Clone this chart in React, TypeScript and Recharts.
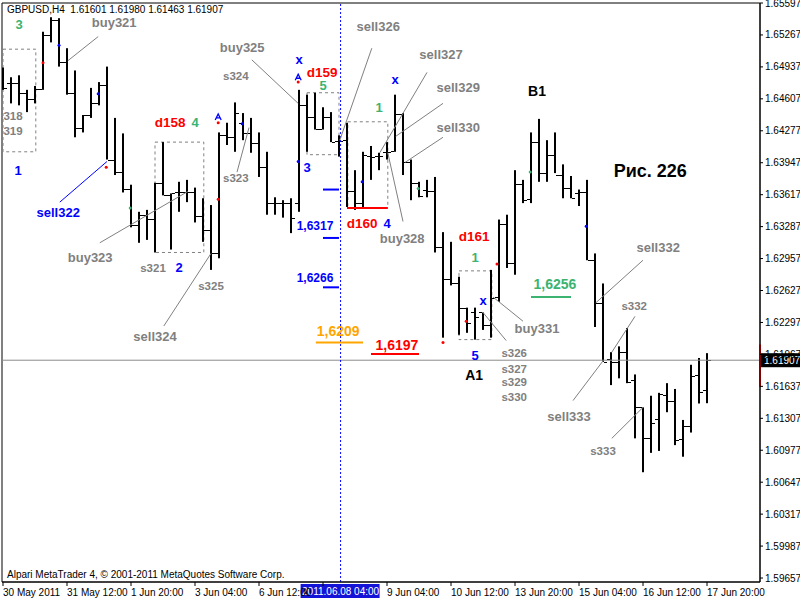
import {
  ComposedChart,
  Bar,
  XAxis,
  YAxis,
  ReferenceLine,
  ReferenceArea,
  ReferenceDot,
} from 'recharts';

// GBPUSD H4, 30 May - 17 Jun 2011, one entry per 4h bar
const opens = [
  1.6477, 1.6477, 1.6477, 1.6467, 1.6461, 1.6471, 1.6527, 1.6542, 1.6499, 1.6467,
  1.6431, 1.6444, 1.6456, 1.6475, 1.6398, 1.6385, 1.6368, 1.633, 1.6341, 1.6337,
  1.6374, 1.6361, 1.6364, 1.6364, 1.6364, 1.634, 1.6325, 1.6301, 1.6423, 1.6421,
  1.6436, 1.6425, 1.6415, 1.639, 1.6353, 1.6353, 1.6353, 1.6353, 1.6454, 1.6442,
  1.643, 1.6442, 1.6417, 1.6418, 1.6366, 1.6353, 1.6402, 1.6402, 1.6406, 1.6407,
  1.6445, 1.6395, 1.6374, 1.6367, 1.6366, 1.6308, 1.6275, 1.627, 1.6245, 1.624,
  1.624, 1.6227, 1.6256, 1.6331, 1.6291, 1.6373, 1.6357, 1.6416, 1.6384, 1.6403,
  1.6382, 1.6369, 1.6363, 1.6364, 1.6294, 1.625, 1.6192, 1.6189, 1.6199, 1.617,
  1.6142, 1.611, 1.613, 1.6155, 1.6149, 1.6109, 1.6123, 1.6175, 1.61601,
];
const highs = [
  1.6493, 1.6483, 1.6485, 1.647, 1.6474, 1.653, 1.6545, 1.6544, 1.6513, 1.649,
  1.6444, 1.6472, 1.6478, 1.6494, 1.6441, 1.6425, 1.6372, 1.6344, 1.6346, 1.6374,
  1.6416, 1.6363, 1.6375, 1.6377, 1.6369, 1.6358, 1.6351, 1.6426, 1.6436, 1.6457,
  1.6446, 1.6441, 1.6426, 1.6406, 1.6359, 1.6356, 1.6358, 1.647, 1.6465, 1.6467,
  1.6452, 1.6447, 1.6423, 1.6436, 1.6387, 1.6406, 1.6412, 1.6405, 1.6416, 1.6465,
  1.6446, 1.6398, 1.6375, 1.6377, 1.638, 1.6323, 1.6313, 1.6277, 1.6245, 1.6245,
  1.624, 1.6284, 1.6336, 1.6341, 1.6387, 1.6377, 1.6426, 1.644, 1.6418, 1.6426,
  1.6393, 1.6381, 1.6367, 1.6377, 1.6301, 1.627, 1.6199, 1.6205, 1.6224, 1.6176,
  1.6142, 1.6154, 1.6157, 1.6167, 1.6161, 1.6129, 1.6186, 1.6193, 1.6198,
];
const lows = [
  1.647, 1.6456, 1.6454, 1.6447, 1.6456, 1.647, 1.6519, 1.6494, 1.6465, 1.6421,
  1.6426, 1.6441, 1.6454, 1.6398, 1.6382, 1.6364, 1.6328, 1.6312, 1.6315, 1.6302,
  1.6361, 1.6305, 1.6344, 1.6354, 1.6333, 1.6313, 1.6284, 1.6296, 1.6413, 1.6406,
  1.6418, 1.6405, 1.638, 1.6341, 1.6341, 1.6338, 1.6322, 1.6344, 1.6406, 1.6429,
  1.6429, 1.6416, 1.6401, 1.6349, 1.6346, 1.6349, 1.6377, 1.6387, 1.6398, 1.6406,
  1.6382, 1.6356, 1.6359, 1.6359, 1.6302, 1.6214, 1.6268, 1.6217, 1.6219, 1.6212,
  1.6222, 1.6214, 1.6251, 1.6286, 1.6279, 1.6353, 1.6353, 1.6375, 1.6375, 1.6384,
  1.6358, 1.6358, 1.635, 1.6294, 1.6225, 1.6189, 1.6165, 1.6172, 1.6167, 1.611,
  1.6075, 1.6095, 1.6097, 1.6137, 1.6103, 1.6091, 1.6116, 1.6146, 1.61463,
];
const closes = [
  1.6472, 1.6477, 1.6467, 1.6461, 1.6471, 1.6527, 1.6542, 1.6499, 1.6467, 1.6431,
  1.6444, 1.6456, 1.6475, 1.6398, 1.6385, 1.6368, 1.633, 1.6341, 1.6337, 1.6374,
  1.6361, 1.6363, 1.6364, 1.6364, 1.634, 1.6325, 1.6301, 1.6423, 1.6421, 1.6446,
  1.6425, 1.6415, 1.639, 1.6353, 1.6353, 1.6353, 1.6338, 1.6454, 1.6442, 1.643,
  1.6442, 1.6416, 1.6417, 1.6366, 1.6353, 1.6403, 1.6401, 1.6402, 1.6406, 1.6445,
  1.6395, 1.6374, 1.636, 1.6366, 1.6308, 1.6275, 1.627, 1.6245, 1.6229, 1.6235,
  1.6227, 1.6255, 1.6331, 1.6291, 1.6373, 1.6356, 1.6416, 1.6384, 1.6403, 1.6382,
  1.6369, 1.6358, 1.6364, 1.6294, 1.625, 1.6189, 1.6189, 1.6199, 1.6168, 1.6142,
  1.611, 1.6126, 1.6156, 1.6149, 1.6108, 1.6123, 1.6174, 1.6158, 1.61907,
];

const timeTicks = [0, 8, 16, 24, 32, 40, 48, 56, 64, 72, 80, 88];
const timeLabels = [
  '30 May 2011', '31 May 12:00', '1 Jun 20:00', '3 Jun 04:00', '6 Jun 12:00', '',
  '9 Jun 04:00', '10 Jun 12:00', '13 Jun 20:00', '15 Jun 04:00', '16 Jun 12:00', '17 Jun 20:00',
];
const priceTicks = [
  1.65597, 1.65267, 1.64937, 1.64607, 1.64277, 1.63947, 1.63617, 1.63287, 1.62957, 1.62627,
  1.62297, 1.61967, 1.61637, 1.61307, 1.60977, 1.60647, 1.60317, 1.59987, 1.59657,
];
const cursorBar = 42.2;
const cursorLabel = '2011.06.08 04:00';

// text marks: [text, bar, price, kind]
const notes = [
  ['3', 2, 1.6537, 'green'],
  ['buy321', 13.9, 1.654, 'gray'],
  ['318', 1.25, 1.6443, 'small'],
  ['319', 1.25, 1.6427, 'small'],
  ['1', 1.9, 1.6387, 'blue'],
  ['sell322', 6.9, 1.6343, 'blue'],
  ['d158', 20.9, 1.6436, 'red'],
  ['4', 24, 1.6436, 'green'],
  ['buy323', 10.9, 1.6297, 'gray'],
  ['s321', 18.75, 1.6286, 'small'],
  ['2', 22, 1.6286, 'blue'],
  ['s325', 26, 1.6267, 'small'],
  ['sell324', 19, 1.6215, 'gray'],
  ['s323', 29.1, 1.6379, 'small'],
  ['s324', 29.1, 1.6484, 'small'],
  ['buy325', 29.9, 1.6514, 'gray'],
  ['x', 37, 1.6501, 'blue'],
  ['d159', 39.9, 1.6488, 'red'],
  ['5', 40, 1.6474, 'green'],
  ['3', 38, 1.639, 'blue'],
  ['1,6317', 39, 1.6329, 'blueSmall'],
  ['1,6266', 39, 1.6276, 'blueSmall'],
  ['sell326', 46.9, 1.6535, 'gray'],
  ['sell327', 54.75, 1.6506, 'gray'],
  ['sell329', 56.9, 1.6472, 'gray'],
  ['sell330', 56.9, 1.6431, 'gray'],
  ['x', 49, 1.6481, 'blue'],
  ['1', 47, 1.6452, 'green'],
  ['d160', 44.9, 1.6332, 'red'],
  ['4', 48, 1.6332, 'blue'],
  ['buy328', 49.9, 1.6316, 'gray'],
  ['1,6209', 41.9, 1.6221, 'orange'],
  ['1,6197', 49.25, 1.6206, 'redBig'],
  ['d161', 58.9, 1.6319, 'red'],
  ['1', 59, 1.6297, 'green'],
  ['x', 60, 1.6252, 'blue'],
  ['buy331', 66.75, 1.6223, 'gray'],
  ['s326', 63.9, 1.6198, 'small'],
  ['s327', 63.9, 1.6182, 'small'],
  ['s329', 63.9, 1.6168, 'small'],
  ['s330', 63.9, 1.6153, 'small'],
  ['5', 59, 1.6196, 'blue'],
  ['A1', 58.9, 1.6175, 'black'],
  ['B1', 66.75, 1.6469, 'black'],
  ['1,6256', 69, 1.6269, 'greenBig'],
  ['Рис. 226', 80.9, 1.6386, 'figure'],
  ['sell332', 81.9, 1.6307, 'gray'],
  ['s332', 78.9, 1.6247, 'small'],
  ['sell333', 70.75, 1.6133, 'gray'],
  ['s333', 75, 1.6097, 'small'],
];

// leader lines: [bar1, price1, bar2, price2, kind]
const leaders = [
  [11.9, 1.6525, 8.1, 1.65, 'gray'],
  [7.1, 1.6354, 13, 1.6396, 'blue'],
  [12.1, 1.6312, 23.1, 1.6365, 'gray'],
  [20.1, 1.6226, 26, 1.6301, 'gray'],
  [29.25, 1.6385, 30.75, 1.6431, 'gray'],
  [31.1, 1.6501, 36.9, 1.6456, 'gray'],
  [46.1, 1.6513, 42.1, 1.6418, 'gray'],
  [53, 1.6488, 47.1, 1.6405, 'gray'],
  [55, 1.6456, 49.1, 1.6422, 'gray'],
  [55, 1.6421, 50.25, 1.6395, 'gray'],
  [50, 1.6334, 48.1, 1.6405, 'gray'],
  [65, 1.6231, 61.25, 1.6256, 'gray'],
  [62.9, 1.6211, 60, 1.624, 'gray'],
  [80, 1.6294, 74.1, 1.625, 'gray'],
  [79, 1.6236, 76.1, 1.6199, 'gray'],
  [71.25, 1.6149, 75, 1.619, 'gray'],
  [76.1, 1.611, 80, 1.6142, 'gray'],
];

// short level marks: [bar1, bar2, price, kind]
const levels = [
  [40, 42, 1.6367, 'blue'],
  [40, 42, 1.6317, 'blue'],
  [40, 42, 1.6266, 'blue'],
  [43, 48.1, 1.6348, 'red'],
  [39.1, 45, 1.6209, 'orange'],
  [46, 52, 1.6197, 'red'],
  [66, 71, 1.6256, 'greenBig'],
];

// dashed boxes: [bar1, bar2, price1, price2]
const boxes = [
  [0, 4.1, 1.6512, 1.6406],
  [19, 25.1, 1.6416, 1.6302],
  [38, 42, 1.6467, 1.6403],
  [43.1, 48.1, 1.6437, 1.6348],
  [57, 61.1, 1.6283, 1.6212],
];

// signal dots: [bar, price, kind]
const dots = [
  [5, 1.6498, 'red'], [7, 1.6516, 'blue'], [11.9, 1.6466, 'blue'], [12.9, 1.639, 'red'],
  [15.9, 1.6348, 'green'], [26.9, 1.6357, 'red'], [29.9, 1.6435, 'blue'], [26.9, 1.6436, 'red'],
  [36.9, 1.6478, 'red'], [36.9, 1.6396, 'blue'], [44.9, 1.6375, 'blue'], [51.9, 1.6368, 'green'],
  [55, 1.6209, 'red'], [57.9, 1.6231, 'red'], [61.75, 1.629, 'red'], [65.9, 1.6385, 'green'],
  [72.9, 1.6329, 'blue'],
];
const arrows = [
  [26.9, 1.6442],
  [36.9, 1.6483],
];

const colors: Record<string, string> = {
  gray: '#808080',
  small: '#808080',
  blue: '#0000ff',
  blueSmall: '#0000ff',
  green: '#3cb371',
  greenBig: '#3cb371',
  red: '#ff0000',
  redBig: '#ff0000',
  orange: '#ffa500',
  black: '#000000',
  figure: '#000000',
};
const sizes: Record<string, number> = {
  gray: 13, small: 11.5, blue: 13, blueSmall: 12, green: 13, greenBig: 14,
  red: 13.5, redBig: 14, orange: 14, black: 14, figure: 18,
};

const FONT = '"Liberation Sans", Arial, sans-serif';
const last = opens.length - 1;
const data = opens.map((o, i) => ({
  i,
  open: o,
  high: highs[i],
  low: lows[i],
  close: closes[i],
  range: [lows[i], highs[i]],
}));

function OhlcBar(props: any) {
  const { x, y, width, height, payload } = props;
  if (x == null || y == null || !payload) return null;
  const top = Math.min(y, y + height);
  const bottom = Math.max(y, y + height);
  const span = payload.high - payload.low;
  const k = span > 0 ? (bottom - top) / span : 0;
  const cx = Math.round(x + width / 2);
  const yo = Math.round(top + (payload.high - payload.open) * k);
  const yc = Math.round(top + (payload.high - payload.close) * k);
  return (
    <g fill="#000">
      <rect x={cx - 1} y={top} width={2} height={Math.max(bottom - top, 1)} />
      <rect x={cx - 4} y={yo} width={3} height={1} />
      <rect x={cx + 1} y={yc} width={3} height={1} />
    </g>
  );
}

function TimeTick(props: any) {
  const { x, y, payload } = props;
  const label = timeLabels[timeTicks.indexOf(payload.value)] || '';
  return (
    <text x={x} y={y + 10} textAnchor="start" fontSize={10} fontFamily={FONT} fill="#000">
      {label}
    </text>
  );
}

function CursorTag(props: any) {
  const vb = props.viewBox;
  if (!vb) return null;
  const bottom = vb.y + vb.height;
  return (
    <g>
      <rect x={vb.x - 40} y={bottom + 2} width={79} height={14} fill="#1414d8" />
      <text x={vb.x} y={bottom + 13} textAnchor="middle" fontSize={10} fontFamily={FONT} fill="#fff">
        {cursorLabel}
      </text>
    </g>
  );
}

function PriceTag(props: any) {
  const vb = props.viewBox;
  if (!vb) return null;
  const right = vb.x + vb.width;
  return (
    <g>
      <rect x={right + 1} y={vb.y - 7} width={40} height={14} fill="#000" />
      <text x={right + 4} y={vb.y + 4} fontSize={10} fontFamily={FONT} fill="#fff">
        {closes[last].toFixed(5)}
      </text>
    </g>
  );
}

export default function App() {
  const xDomain = [-0.125, 94.625];
  const yDomain = [1.59616, 1.65597];
  return (
    <div
      style={{
        position: 'absolute',
        left: 0,
        top: 0,
        width: 800,
        height: 600,
        background: '#fff',
        fontFamily: FONT,
      }}
    >
      <ComposedChart
        width={800}
        height={600}
        data={data}
        margin={{ top: 3, right: 0, bottom: 0, left: 2 }}
      >
        <XAxis
          dataKey="i"
          type="number"
          domain={xDomain}
          allowDataOverflow
          ticks={timeTicks}
          interval={0}
          height={18}
          tickSize={4}
          tickMargin={0}
          stroke="#000"
          tick={<TimeTick />}
        />
        <YAxis
          yAxisId={0}
          orientation="right"
          type="number"
          domain={yDomain}
          allowDataOverflow
          ticks={priceTicks}
          interval={0}
          width={40}
          tickSize={3}
          tickMargin={2}
          stroke="#000"
          tickFormatter={(v: number) => v.toFixed(5)}
          tick={{ fontSize: 10, fill: '#000', fontFamily: FONT }}
        />
        <ReferenceArea
          x1={xDomain[0]}
          x2={xDomain[1]}
          y1={yDomain[0]}
          y2={yDomain[1]}
          fill="none"
          fillOpacity={0}
          stroke="#000"
        />
        <ReferenceLine y={closes[last]} stroke="#8c8c8c" label={(p: any) => <PriceTag {...p} />} />
        <ReferenceLine
          x={cursorBar}
          stroke="#0000ff"
          strokeDasharray="2 2"
          label={(p: any) => <CursorTag {...p} />}
        />
        <ReferenceLine
          segment={[
            { x: xDomain[1], y: 1.6207 },
            { x: xDomain[1], y: 1.6163 },
          ]}
          stroke="#ff0000"
          strokeWidth={2}
        />
        <Bar dataKey="range" barSize={6} shape={<OhlcBar />} isAnimationActive={false} />
        {boxes.map(([a, b, p1, p2], k) => (
          <ReferenceArea
            key={'box' + k}
            x1={a}
            x2={b}
            y1={p2}
            y2={p1}
            fill="none"
            fillOpacity={0}
            stroke="#808080"
            strokeDasharray="3 3"
          />
        ))}
        {leaders.map(([a, p1, b, p2, kind], k) => (
          <ReferenceLine
            key={'lead' + k}
            segment={[
              { x: a as number, y: p1 as number },
              { x: b as number, y: p2 as number },
            ]}
            stroke={colors[kind as string]}
            strokeWidth={1}
          />
        ))}
        {levels.map(([a, b, p, kind], k) => (
          <ReferenceLine
            key={'lvl' + k}
            segment={[
              { x: a as number, y: p as number },
              { x: b as number, y: p as number },
            ]}
            stroke={colors[kind as string]}
            strokeWidth={2}
          />
        ))}
        {dots.map(([b, p, kind], k) => (
          <ReferenceDot
            key={'dot' + k}
            x={b as number}
            y={p as number}
            r={1.5}
            fill={colors[kind as string]}
            stroke="none"
          />
        ))}
        {arrows.map(([b, p], k) => (
          <ReferenceDot
            key={'arr' + k}
            x={b}
            y={p}
            r={1}
            shape={(s: any) => (
              <path
                d={`M${s.cx - 3},${s.cy + 3} L${s.cx},${s.cy - 3} L${s.cx + 3},${s.cy + 3} M${s.cx - 2},${s.cy + 1} L${s.cx + 2},${s.cy + 1}`}
                stroke="#0000ff"
                strokeWidth={1.3}
                fill="none"
              />
            )}
          />
        ))}
        {notes.map(([text, b, p, kind], k) => (
          <ReferenceDot
            key={'note' + k}
            x={b as number}
            y={p as number}
            r={1}
            shape={(s: any) => (
              <text
                x={s.cx}
                y={s.cy}
                textAnchor="middle"
                dominantBaseline="central"
                fontFamily={FONT}
                fontWeight="bold"
                fontSize={sizes[kind as string]}
                fill={colors[kind as string]}
              >
                {text}
              </text>
            )}
          />
        ))}
      </ComposedChart>
      <div
        style={{
          position: 'absolute',
          left: 7,
          top: 3,
          fontSize: 10,
          lineHeight: '14px',
          whiteSpace: 'pre',
          color: '#000',
        }}
      >
        {`GBPUSD,H4  ${opens[last].toFixed(5)} ${highs[last].toFixed(5)} ${lows[last].toFixed(5)} ${closes[last].toFixed(5)}`}
      </div>
      <div
        style={{
          position: 'absolute',
          left: 7,
          top: 568,
          fontSize: 10,
          lineHeight: '14px',
          whiteSpace: 'pre',
          color: '#000',
        }}
      >
        Alpari MetaTrader 4, © 2001-2011 MetaQuotes Software Corp.
      </div>
    </div>
  );
}
